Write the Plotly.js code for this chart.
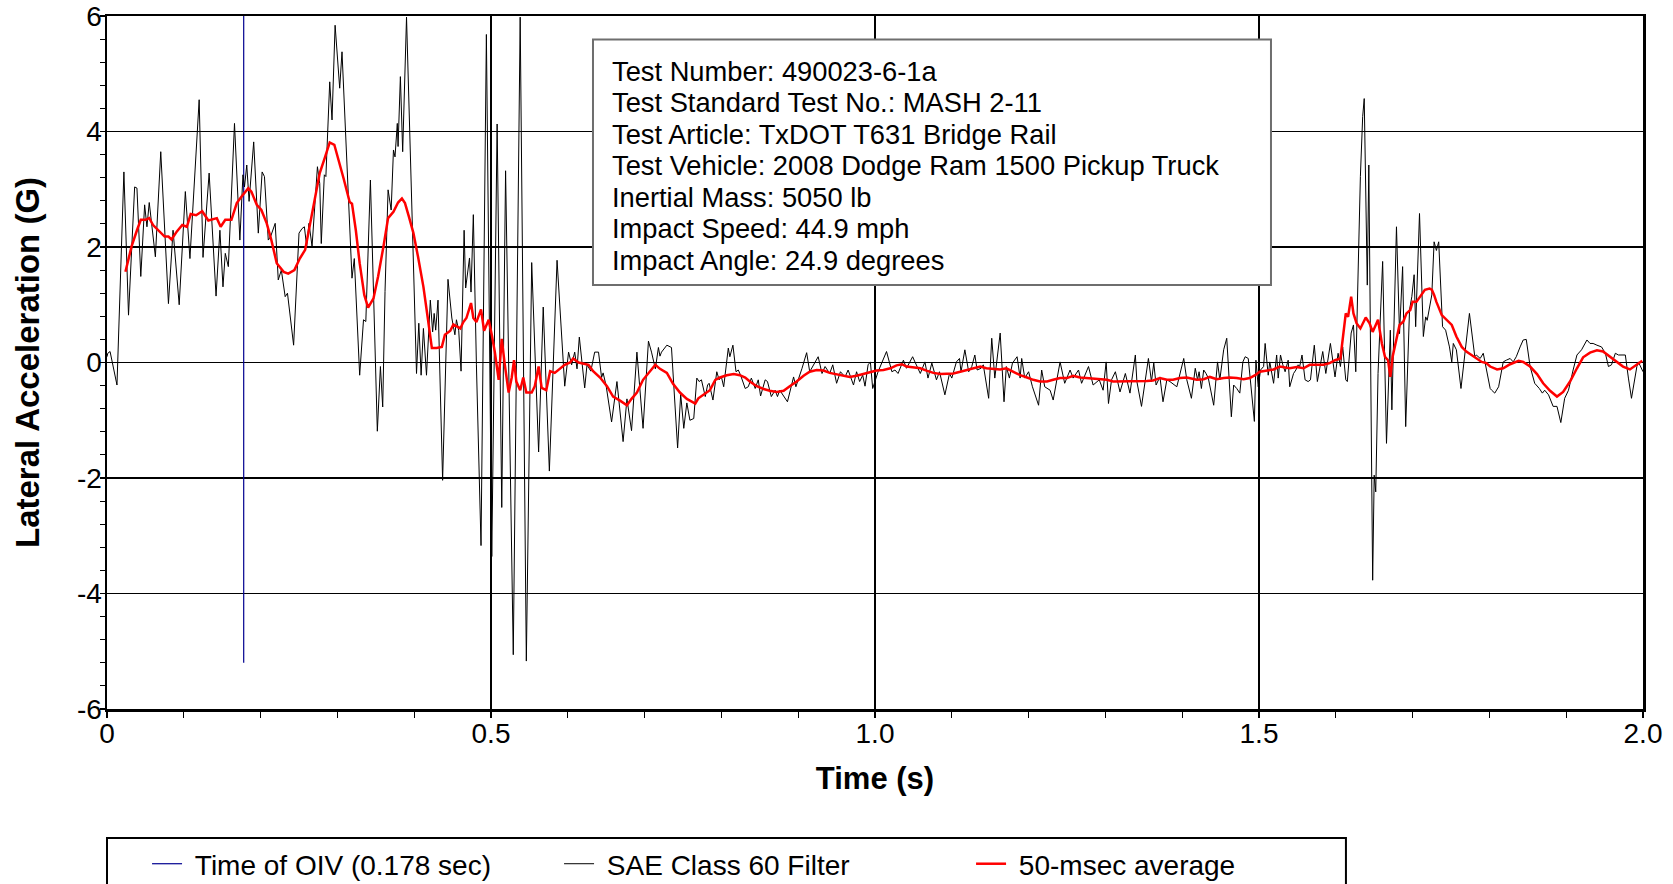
<!DOCTYPE html>
<html>
<head>
<meta charset="utf-8">
<script src="https://cdn.plot.ly/plotly-3.0.1.min.js"></script>
<style>
  html, body { margin: 0; padding: 0; background: #ffffff; }
  #chart { width: 1673px; height: 884px; }
</style>
</head>
<body>
<div id="chart"></div>
<script>
// ---- Data ----
const oivTime = [0.178, 0.178];
const oivAccel = [6, -5.2];

// SAE Class 60 filtered lateral acceleration: [time (s), accel (G)]
const saeSegment1 = [
  [0.000,0.10],[0.001,0.16],[0.004,0.19],[0.013,-0.39],[0.022,3.30],[0.028,0.82],[0.036,3.04],[0.039,3.02],[0.044,1.49],[0.049,2.73],
  [0.052,2.35],[0.055,2.77],[0.063,1.83],[0.070,3.65],[0.080,1.02],[0.086,2.29],[0.094,1.00],[0.102,2.96],[0.108,1.80],[0.120,4.55],
  [0.125,1.82],[0.133,3.28],[0.142,1.15],[0.147,2.29],[0.151,1.31],[0.154,1.89],[0.158,1.66],[0.166,4.14],[0.173,2.12],[0.177,3.25],
  [0.179,3.04],[0.182,3.42],[0.185,2.79],[0.191,3.82],[0.197,2.24],[0.202,3.30],[0.205,3.22],[0.210,2.12],[0.213,2.18],[0.219,2.41],
  [0.223,1.43],[0.227,1.60],[0.232,1.14],[0.235,1.20],[0.243,0.30],[0.250,2.24],[0.254,2.32],[0.257,2.35],[0.260,2.01],[0.263,2.41],
  [0.267,2.01],[0.274,3.39],[0.277,3.10],[0.279,2.06],[0.283,3.25],[0.285,3.22],[0.290,4.86],[0.293,4.20],[0.297,5.84],[0.303,4.75],
  [0.306,5.38],[0.319,1.46],[0.322,1.80],[0.329,-0.22],[0.334,0.74],[0.337,0.71],[0.343,3.16],[0.352,-1.19],[0.356,-0.07],[0.359,-0.77],
  [0.362,1.23],[0.366,2.99],[0.370,2.64],[0.373,3.68],[0.375,3.56],[0.378,4.14],[0.379,3.74],[0.382,4.95],[0.385,3.65],[0.390,5.98],
  [0.403,-0.19],[0.406,0.68],[0.409,-0.22],[0.412,0.59],[0.416,-0.22],[0.421,1.08],[0.424,0.53],[0.426,0.85],[0.428,0.56],[0.431,1.08]
];
const saeSegment2 = [
  [0.437,-2.04],[0.444,1.44],[0.449,0.77],[0.453,0.48],[0.455,0.74],[0.458,0.55],[0.461,-0.15],[0.465,2.29],[0.467,1.29],[0.472,1.81],
  [0.474,1.22],[0.477,2.56],[0.481,-0.04],[0.487,-3.17],[0.494,5.68],[0.501,-3.36],[0.508,4.13],[0.514,-2.51],[0.519,3.32],[0.529,-5.06],
  [0.538,5.98],[0.546,-5.17],[0.553,1.73],[0.562,-1.55],[0.568,0.96],[0.576,-1.88],[0.586,1.77],[0.596,-0.41],[0.601,0.18],[0.605,-0.04],
  [0.609,0.18],[0.612,-0.11],[0.615,0.44],[0.622,-0.44],[0.625,-0.04],[0.630,-0.15],[0.635,0.18],[0.640,0.18],[0.644,-0.26],[0.646,-0.18],
  [0.650,-0.41],[0.657,-1.03],[0.664,-0.33],[0.672,-1.37],[0.677,-0.63],[0.683,-1.18],[0.690,0.18],[0.698,-1.14],[0.705,0.37],[0.709,0.18],
  [0.714,-0.11],[0.718,0.26],[0.720,0.11],[0.722,0.18],[0.729,0.30],[0.735,0.26],[0.743,-1.48],[0.747,-0.55],[0.751,-1.14],[0.755,-0.70],
  [0.759,-1.00]
];
const saeSegment3 = [
  [0.764,-0.97],[0.768,-0.27],[0.771,-0.33],[0.774,-0.30],[0.779,-0.59],[0.782,-0.39],[0.784,-0.36],[0.789,-0.65],[0.794,-0.16],[0.797,-0.30],
  [0.800,-0.25],[0.803,-0.42],[0.809,0.25],[0.811,0.10],[0.815,0.30],[0.819,-0.16],[0.822,-0.13],[0.825,-0.22],[0.831,-0.45],[0.835,-0.42],
  [0.839,-0.27],[0.844,-0.45],[0.848,-0.30],[0.851,-0.58],[0.857,-0.30],[0.860,-0.33],[0.865,-0.59],[0.870,-0.48],[0.873,-0.59],[0.876,-0.48],
  [0.886,-0.68],[0.894,-0.25],[0.897,-0.42],[0.905,-0.10],[0.911,0.17],[0.915,-0.16],[0.922,0.01],[0.926,0.10],[0.931,-0.19],[0.935,-0.07],
  [0.941,-0.19],[0.945,-0.04],[0.950,-0.36],[0.955,-0.16],[0.961,-0.25],[0.965,-0.13],[0.972,-0.39],[0.976,-0.16],[0.980,-0.33],[0.984,-0.22],
  [0.987,-0.41],[0.991,-0.04],[0.994,0.01],[0.997,-0.45],[1.004,-0.16],[1.009,0.01],[1.015,0.19],[1.022,-0.16],[1.026,-0.13],[1.030,-0.19],
  [1.037,0.04],[1.041,-0.10],[1.049,0.10],[1.052,0.01],[1.059,-0.19],[1.065,0.01],[1.069,-0.27],[1.074,-0.01],[1.080,-0.30],[1.084,-0.16],
  [1.091,-0.56],[1.097,-0.19],[1.100,-0.27],[1.106,0.01],[1.110,0.07],[1.112,-0.16],[1.117,0.22],[1.122,-0.16],[1.126,-0.07],[1.130,0.13],
  [1.133,-0.13],[1.138,-0.10],[1.141,-0.04],[1.148,-0.62],[1.152,0.42],[1.156,-0.27],[1.163,0.51],[1.168,-0.68],[1.171,-0.07],[1.175,-0.27],
  [1.179,-0.01],[1.185,0.10],[1.189,-0.27],[1.191,0.07],[1.195,-0.27],[1.200,-0.16],[1.205,-0.42],[1.213,-0.74],[1.217,-0.13],[1.221,-0.42],
  [1.228,-0.48],[1.232,-0.65],[1.241,0.01],[1.247,-0.36],[1.254,-0.13],[1.258,-0.27],[1.265,-0.13],[1.269,-0.36],[1.278,-0.07],[1.284,-0.39],
  [1.292,-0.30],[1.297,-0.48],[1.301,0.01],[1.304,-0.71],[1.308,-0.30],[1.313,-0.16],[1.319,-0.51],[1.326,-0.19],[1.332,-0.53],[1.339,0.13],
  [1.341,-0.33],[1.347,-0.76],[1.356,0.07],[1.360,-0.33],[1.363,-0.01],[1.366,-0.39],[1.371,-0.25],[1.375,-0.68],[1.380,-0.30],[1.384,-0.33],
  [1.393,-0.42],[1.402,0.07],[1.406,-0.30],[1.412,-0.62]
];
const saeSegment4 = [
  [1.417,-0.10],[1.420,-0.30],[1.422,-0.16],[1.425,-0.45],[1.428,-0.13],[1.431,-0.19],[1.434,-0.27],[1.441,-0.74],[1.446,0.01],[1.449,-0.30],
  [1.454,0.22],[1.458,0.42],[1.464,-0.94],[1.467,-0.39],[1.471,-0.45],[1.475,-0.53],[1.479,0.01],[1.482,0.10],[1.486,0.07],[1.494,-1.02],
  [1.496,0.04],[1.499,-0.42],[1.502,-0.13],[1.506,-0.07],[1.508,0.33],[1.512,-0.22],[1.514,0.01],[1.519,-0.36],[1.523,0.13],[1.525,-0.27],
  [1.528,0.13],[1.531,-0.04],[1.534,-0.16],[1.538,0.04],
  [1.540,-0.42],[1.545,-0.19],[1.548,-0.13],[1.551,-0.04],[1.553,-0.07],[1.556,0.13],[1.560,-0.30],[1.564,-0.33],[1.567,-0.30],[1.572,0.30],
  [1.576,-0.33],[1.583,0.19],[1.587,-0.19],[1.593,0.33],[1.599,-0.25],[1.603,0.16],[1.606,-0.07],[1.609,0.27],[1.613,-0.30],[1.615,-0.33],
  [1.620,0.51],[1.623,0.65],[1.626,-0.16],[1.632,3.22],[1.635,4.26],[1.637,4.57],[1.641,1.34],[1.643,3.42],[1.648,-3.77],[1.650,-1.95],
  [1.652,-2.24],[1.655,-0.19],[1.661,1.75],[1.666,-1.40],[1.671,0.56],[1.673,-0.82],[1.679,2.35],[1.683,0.50],[1.687,1.66],[1.691,-1.11],
  [1.696,0.91],[1.699,1.14],[1.702,1.52],[1.704,0.62],[1.709,2.58],[1.714,0.45],[1.717,0.79],[1.719,0.73],[1.725,1.17],[1.728,2.09],
  [1.731,1.94],[1.734,2.09],[1.739,0.62],[1.743,0.56],[1.748,0.27],[1.751,0.01],[1.753,0.33],[1.757,0.22],[1.763,-0.45],[1.774,0.85],
  [1.781,0.10],[1.783,0.13],[1.788,0.07],[1.792,0.16],[1.801,-0.45],
  [1.803,-0.48],[1.807,-0.53],[1.812,-0.42],[1.818,0.01],[1.822,0.04],[1.827,0.07],[1.831,0.01],[1.835,0.10],[1.840,0.27],[1.844,0.39],
  [1.848,0.40],[1.853,-0.07],[1.859,-0.36],[1.865,-0.45],[1.869,-0.53],[1.872,-0.48],[1.877,-0.56],[1.883,-0.76],[1.888,-0.76],[1.893,-1.04],
  [1.898,-0.62],[1.903,-0.48],[1.909,-0.13],[1.914,0.13],[1.920,0.22],[1.927,0.39],[1.931,0.33],[1.935,0.33],[1.940,0.30],[1.946,0.27],
  [1.951,0.16],[1.955,-0.07],[1.959,-0.04],[1.964,0.16],[1.968,0.13],[1.972,0.13],[1.977,0.13],[1.981,-0.27],[1.985,-0.62],[1.992,-0.07],
  [1.994,0.01],[2.000,-0.16]
];

// 50-msec moving average: [time (s), accel (G)]
const avgSegment1 = [
  [0.024,1.57],[0.032,2.01],[0.039,2.29],[0.044,2.47],[0.050,2.47],[0.055,2.50],[0.060,2.38],[0.067,2.29],[0.075,2.18],[0.080,2.18],
  [0.084,2.13],[0.091,2.27],[0.098,2.38],[0.104,2.35],[0.109,2.57],[0.116,2.55],[0.124,2.62],[0.132,2.46],[0.143,2.50],[0.148,2.35],
  [0.154,2.47],[0.162,2.47],[0.169,2.76],[0.175,2.87],[0.184,3.02],[0.188,2.96],[0.195,2.73],[0.201,2.64],[0.208,2.41],[0.214,2.12],
  [0.221,1.72],[0.230,1.57],[0.236,1.54],[0.244,1.60],[0.251,1.80],[0.258,1.95],[0.264,2.35],[0.271,2.87],[0.277,3.28],[0.284,3.56],
  [0.290,3.81],[0.296,3.77],[0.301,3.54],[0.308,3.19],[0.316,2.78],[0.319,2.75],[0.324,2.29],[0.329,1.72],[0.335,1.17],[0.340,0.95],
  [0.347,1.11],[0.353,1.49],[0.360,2.01],[0.366,2.50],[0.373,2.61],[0.379,2.77],[0.384,2.84],[0.388,2.76],[0.393,2.53],[0.399,2.24],
  [0.405,1.83],[0.412,1.31],[0.418,0.74],[0.423,0.25],[0.429,0.25],[0.436,0.27]
];
const avgSegment2 = [
  [0.440,0.48],[0.447,0.55],[0.451,0.66],[0.455,0.63],[0.460,0.59],[0.464,0.70],[0.468,0.77],[0.474,1.03],[0.477,0.77],[0.481,0.70],
  [0.487,0.92],[0.491,0.55],[0.497,0.74],[0.501,0.48],[0.505,0.18],[0.510,-0.30],[0.514,0.41],[0.518,-0.04],[0.523,-0.52],[0.527,-0.26],
  [0.530,0.04],[0.533,-0.33],[0.538,-0.48],[0.542,-0.26],[0.546,-0.52],[0.553,-0.52],[0.557,-0.41],[0.562,-0.07],[0.566,-0.44],[0.572,-0.48],
  [0.577,-0.15],[0.583,-0.18],[0.590,-0.11],[0.596,-0.04],[0.603,0.00],[0.607,0.07],[0.614,0.00],[0.620,-0.02],[0.627,-0.04],[0.633,-0.15],
  [0.642,-0.26],[0.651,-0.41],[0.659,-0.59],[0.668,-0.66],[0.677,-0.74],[0.683,-0.63],[0.690,-0.52],[0.698,-0.30],[0.707,-0.15],[0.714,-0.04],
  [0.720,-0.11],[0.729,-0.18],[0.737,-0.37],[0.746,-0.52],[0.755,-0.63]
];
const avgSegment3 = [
  [0.766,-0.71],[0.770,-0.62],[0.777,-0.56],[0.785,-0.48],[0.792,-0.30],[0.798,-0.26],[0.807,-0.22],[0.816,-0.20],[0.824,-0.22],[0.831,-0.26],
  [0.837,-0.33],[0.846,-0.41],[0.855,-0.46],[0.863,-0.49],[0.872,-0.51],[0.881,-0.49],[0.889,-0.41],[0.898,-0.33],[0.907,-0.23],[0.915,-0.16],
  [0.924,-0.13],[0.933,-0.14],[0.941,-0.18],[0.950,-0.20],[0.959,-0.22],[0.967,-0.25],[0.976,-0.23],[0.985,-0.20],[0.994,-0.16],[1.002,-0.14],
  [1.011,-0.13],[1.020,-0.10],[1.028,-0.05],[1.035,-0.03],[1.041,-0.07],[1.050,-0.08],[1.059,-0.10],[1.067,-0.14],[1.076,-0.18],[1.085,-0.20],
  [1.093,-0.20],[1.102,-0.19],[1.111,-0.16],[1.119,-0.13],[1.128,-0.10],[1.137,-0.07],[1.145,-0.10],[1.154,-0.11],[1.163,-0.12],[1.171,-0.10],
  [1.180,-0.16],[1.189,-0.22],[1.198,-0.26],[1.206,-0.30],[1.215,-0.33],[1.224,-0.33],[1.232,-0.30],[1.241,-0.27],[1.250,-0.27],[1.258,-0.23],
  [1.267,-0.26],[1.276,-0.27],[1.284,-0.29],[1.293,-0.29],[1.302,-0.30],[1.310,-0.33],[1.319,-0.33],[1.328,-0.32],[1.336,-0.33],[1.345,-0.33],
  [1.354,-0.32],[1.362,-0.31],[1.371,-0.27],[1.380,-0.30],[1.388,-0.30],[1.397,-0.27],[1.406,-0.26]
];
const avgSegment4 = [
  [1.419,-0.30],[1.428,-0.29],[1.436,-0.25],[1.445,-0.29],[1.454,-0.27],[1.462,-0.26],[1.471,-0.27],[1.480,-0.29],[1.488,-0.27],[1.495,-0.22],
  [1.501,-0.16],[1.510,-0.14],[1.519,-0.12],[1.527,-0.07],[1.536,-0.10],
  [1.540,-0.10],[1.549,-0.08],[1.558,-0.10],[1.566,-0.04],[1.575,-0.04],[1.584,-0.04],[1.592,-0.01],[1.599,0.04],[1.606,0.07],[1.610,0.51],
  [1.613,0.85],[1.616,0.79],[1.620,1.14],[1.623,0.85],[1.627,0.68],[1.632,0.59],[1.636,0.71],[1.639,0.78],[1.644,0.68],[1.648,0.53],
  [1.652,0.65],[1.655,0.74],[1.660,0.33],[1.664,0.10],[1.668,0.04],[1.671,-0.25],[1.674,0.10],[1.678,0.33],[1.683,0.65],[1.688,0.71],
  [1.692,0.85],[1.697,0.91],[1.700,1.05],[1.705,1.05],[1.711,1.17],[1.716,1.26],[1.722,1.28],[1.725,1.26],[1.728,1.17],[1.731,1.05],
  [1.738,0.82],[1.744,0.74],[1.751,0.65],[1.757,0.45],[1.764,0.27],[1.770,0.19],[1.777,0.13],[1.783,0.07],[1.790,0.01],[1.796,-0.01],
  [1.801,-0.07],[1.810,-0.12],[1.818,-0.10],[1.827,-0.03],[1.838,0.03],[1.844,0.01],[1.853,-0.07],[1.862,-0.20],[1.870,-0.36],[1.879,-0.49],
  [1.888,-0.59],[1.896,-0.51],[1.905,-0.33],[1.914,-0.10],[1.922,0.09],[1.931,0.17],[1.940,0.21],[1.948,0.19],[1.957,0.10],[1.966,0.00],
  [1.974,-0.07],[1.983,-0.12],[1.992,-0.04],[1.999,0.03]
];

const xTickVals = [0, 0.5, 1.0, 1.5, 2.0];
const xTickText = ['0', '0.5', '1.0', '1.5', '2.0'];
const yTickVals = [-6, -4, -2, 0, 2, 4, 6];
const yTickText = ['-6', '-4', '-2', '0', '2', '4', '6'];

const seriesNames = ['Time of OIV (0.178 sec)', 'SAE Class 60 Filter', '50-msec average'];
const infoLines = [
  'Test Number: 490023-6-1a',
  'Test Standard Test No.: MASH 2-11',
  'Test Article: TxDOT T631 Bridge Rail',
  'Test Vehicle: 2008 Dodge Ram 1500 Pickup Truck',
  'Inertial Mass: 5050 lb',
  'Impact Speed: 44.9 mph',
  'Impact Angle: 24.9 degrees'
];

// ---- Build traces ----
const sae = [].concat(saeSegment1, saeSegment2, saeSegment3, saeSegment4);
const avg = [].concat(avgSegment1, avgSegment2, avgSegment3, avgSegment4);

const FONT = 'Liberation Sans, Arial, Helvetica, sans-serif';
const NBSP = '\u00a0';

const traces = [
  { x: oivTime, y: oivAccel, type: 'scatter', mode: 'lines', name: NBSP + seriesNames[0],
    line: { color: '#000090', width: 1.2 }, hoverinfo: 'skip' },
  { x: sae.map(p => p[0]), y: sae.map(p => p[1]), type: 'scatter', mode: 'lines', name: NBSP + seriesNames[1],
    line: { color: '#000000', width: 1 } },
  { x: avg.map(p => p[0]), y: avg.map(p => p[1]), type: 'scatter', mode: 'lines', name: NBSP + seriesNames[2],
    line: { color: '#FF0000', width: 2.5 } }
];

// info box text lines (one annotation per line for tight line spacing)
const boxTop = 0.9199, lineStep = 0.0454;
const annotations = infoLines.map((txt, i) => ({
  xref: 'paper', yref: 'paper', x: 0.3275, y: boxTop - i * lineStep,
  xanchor: 'left', yanchor: 'middle', showarrow: false, text: txt,
  font: { family: FONT, size: 27.3, color: '#000000' }
}));

const layout = {
  width: 1673, height: 884,
  margin: { l: 107, r: 30, t: 16, b: 175, pad: 0 },
  paper_bgcolor: '#ffffff', plot_bgcolor: '#ffffff',
  font: { family: FONT, size: 28, color: '#000000' },
  showlegend: true,
  xaxis: {
    range: [0, 2], tickvals: xTickVals, ticktext: xTickText,
    showline: true, linecolor: '#000000', linewidth: 2.5, mirror: true,
    showgrid: true, gridcolor: '#000000', gridwidth: 1.2, zeroline: false,
    ticks: 'outside', ticklen: 6, tickwidth: 1.5, tickcolor: '#000000',
    ticklabelstandoff: -8,
    minor: { dtick: 0.1, tick0: 0, ticks: 'outside', ticklen: 6, tickwidth: 1, tickcolor: '#000000', showgrid: false },
    tickfont: { family: FONT, size: 28, color: '#000000' },
    title: { text: 'Time (s)', font: { family: FONT, size: 31, color: '#000000', weight: 'bold' }, standoff: 19 }
  },
  yaxis: {
    range: [-6, 6], tickvals: yTickVals, ticktext: yTickText,
    showline: true, linecolor: '#000000', linewidth: 2.5, mirror: true,
    showgrid: true, gridcolor: '#000000', gridwidth: 1.4, zeroline: false,
    ticks: 'outside', ticklen: 5, tickwidth: 1.5, tickcolor: '#000000',
    ticklabelstandoff: -8,
    minor: { dtick: 0.4, tick0: -6, ticks: 'outside', ticklen: 5, tickwidth: 1, tickcolor: '#000000', showgrid: false },
    tickfont: { family: FONT, size: 28, color: '#000000' },
    title: { text: 'Lateral Acceleration (G)', font: { family: FONT, size: 33, color: '#000000', weight: 'bold' }, standoff: 28 }
  },
  legend: {
    orientation: 'h', xref: 'container', yref: 'container',
    x: 0.0879, xanchor: 'left', y: 0.0226, yanchor: 'middle',
    borderwidth: 0, bgcolor: 'rgba(0,0,0,0)',
    font: { family: FONT, size: 28, color: '#000000' },
    entrywidth: 367, entrywidthmode: 'pixels', traceorder: 'normal', itemwidth: 30
  },
  shapes: [
    { type: 'rect', xref: 'paper', yref: 'paper', x0: 0.3164, x1: 0.7578, y0: 0.6118, y1: 0.9661,
      line: { color: '#6e6e6e', width: 2 }, fillcolor: '#ffffff', layer: 'above' },
    { type: 'rect', xref: 'paper', yref: 'paper', x0: 0, x1: 0.8066, y0: -0.2554, y1: -0.1861,
      line: { color: '#000000', width: 2 }, fillcolor: 'rgba(0,0,0,0)', layer: 'above' }
  ],
  annotations: annotations
};

Plotly.newPlot('chart', traces, layout, { displayModeBar: false, staticPlot: true });
</script>
</body>
</html>
